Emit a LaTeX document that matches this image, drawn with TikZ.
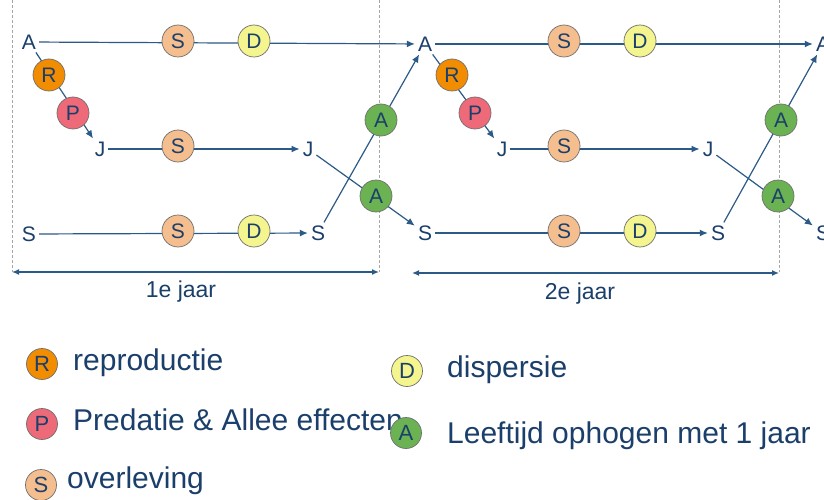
\documentclass[tikz,border=0pt]{standalone}
\usepackage{fontspec}
\setmainfont{Liberation Sans}
\usetikzlibrary{arrows.meta}
\definecolor{flowcol}{HTML}{2B5A86}
\definecolor{txtcol}{HTML}{1B3F6B}
\definecolor{rcol}{HTML}{F28C00}
\definecolor{pcol}{HTML}{EE6A78}
\definecolor{scol}{HTML}{F5BE8E}
\definecolor{dcol}{HTML}{F4F58E}
\definecolor{acol}{HTML}{6BB352}
\definecolor{rimcol}{HTML}{6F6F6F}
\tikzset{
  stage/.style={text=txtcol, inner sep=3pt, font=\fontsize{21}{21}\selectfont},
  proc/.style={circle, draw=rimcol, line width=0.7pt, minimum size=32pt, inner sep=0pt,
               text=txtcol, font=\fontsize{21}{21}\selectfont},
  legcirc/.style={circle, draw=rimcol, line width=0.7pt, minimum size=31pt, inner sep=0pt,
               text=txtcol, font=\fontsize{22}{22}\selectfont},
  flow/.style={draw=flowcol, line width=1.2pt, -{Latex[length=8pt,width=7pt]}},
  yearline/.style={draw=gray!70, line width=0.6pt, dash pattern=on 3pt off 2pt},
  span/.style={draw=flowcol, line width=1.3pt, {Latex[length=7pt,width=6pt]}-{Latex[length=7pt,width=6pt]}},
  legtext/.style={text=txtcol, anchor=base west, inner sep=0pt, font=\fontsize{30}{30}\selectfont},
  spantext/.style={text=txtcol, anchor=base, inner sep=0pt, font=\fontsize{23}{23}\selectfont}
}
\begin{document}
\begin{tikzpicture}[x=1pt,y=-1pt]
\useasboundingbox (0,0) rectangle (824,500);
\clip (0,0) rectangle (824,500);
\fill[white] (0,0) rectangle (824,500);

% year boundaries
\draw[yearline] (12,0) -- (12,272);
\draw[yearline] (379,0) -- (379,272);
\draw[yearline] (779,0) -- (779,272);

% life stages, year 1
\node[stage] (A1) at (29,42) {A};
\node[stage] (J1) at (100,149) {J};
\node[stage] (S1) at (29,234) {S};
\node[stage] (J1e) at (308,149) {J};
\node[stage] (S1e) at (318,233) {S};
% life stages, year 2
\node[stage] (A2) at (425,44) {A};
\node[stage] (J2) at (502,149) {J};
\node[stage] (S2) at (425,233) {S};
\node[stage] (J2e) at (708,149) {J};
\node[stage] (S2e) at (718,233) {S};
% start of year 3
\node[stage] (A3) at (823,44) {A};
\node[stage] (S3) at (823,233) {S};

% transitions, year 1
\draw[flow] (A1) -- (A2);
\draw[flow] (A1) -- (J1);
\draw[flow] (J1) -- (J1e);
\draw[flow] (S1) -- (S1e);
\draw[flow] (S1e) -- (A2);
\draw[flow] (J1e) -- (S2);
% transitions, year 2
\draw[flow] (A2) -- (A3);
\draw[flow] (A2) -- (J2);
\draw[flow] (J2) -- (J2e);
\draw[flow] (S2) -- (S2e);
\draw[flow] (S2e) -- (A3);
\draw[flow] (J2e) -- (S3);

% processes, year 1
\node[proc, fill=scol] (s11) at (178,41) {S};
\node[proc, fill=dcol] (d11) at (254,41) {D};
\node[proc, fill=rcol] (r1) at (49,75) {R};
\node[proc, fill=pcol] (p1) at (73,113) {P};
\node[proc, fill=scol] (s12) at (178,146) {S};
\node[proc, fill=scol] (s13) at (178,231) {S};
\node[proc, fill=dcol] (d13) at (254,231) {D};
\node[proc, fill=acol] (a11) at (381,120) {A};
\node[proc, fill=acol] (a12) at (376,196) {A};
% processes, year 2
\node[proc, fill=scol] (s21) at (564,41) {S};
\node[proc, fill=dcol] (d21) at (640,41) {D};
\node[proc, fill=rcol] (r2) at (452,75) {R};
\node[proc, fill=pcol] (p2) at (475,113) {P};
\node[proc, fill=scol] (s22) at (564,146) {S};
\node[proc, fill=scol] (s23) at (564,231) {S};
\node[proc, fill=dcol] (d23) at (640,231) {D};
\node[proc, fill=acol] (a21) at (781,120) {A};
\node[proc, fill=acol] (a22) at (778,196) {A};

% year spans
\coordinate (y0) at (12,272);
\coordinate (y1) at (379,272);
\coordinate (y2) at (412,273);
\coordinate (y3) at (779,273);
\draw[span] (y0) -- (y1);
\draw[span] (y2) -- (y3);
\node[spantext] (t1) at (181,297) {1e jaar};
\node[spantext] (t2) at (580,299) {2e jaar};

% legend
\node[legcirc, fill=rcol] (lr) at (42,364) {R};
\node[legtext] (tr) at (73,370) {reproductie};
\node[legcirc, fill=pcol] (lp) at (42,424) {P};
\node[legtext] (tp) at (73,430) {Predatie \& Allee effecten};
\node[legcirc, fill=scol] (ls) at (41,485) {S};
\node[legtext] (ts) at (67,488) {overleving};
\node[legcirc, fill=dcol] (ld) at (407,371) {D};
\node[legtext] (td) at (447,377) {dispersie};
\node[legcirc, fill=acol] (la) at (406,433) {A};
\node[legtext] (ta) at (447,443) {Leeftijd ophogen met 1 jaar};
\end{tikzpicture}
\end{document}
